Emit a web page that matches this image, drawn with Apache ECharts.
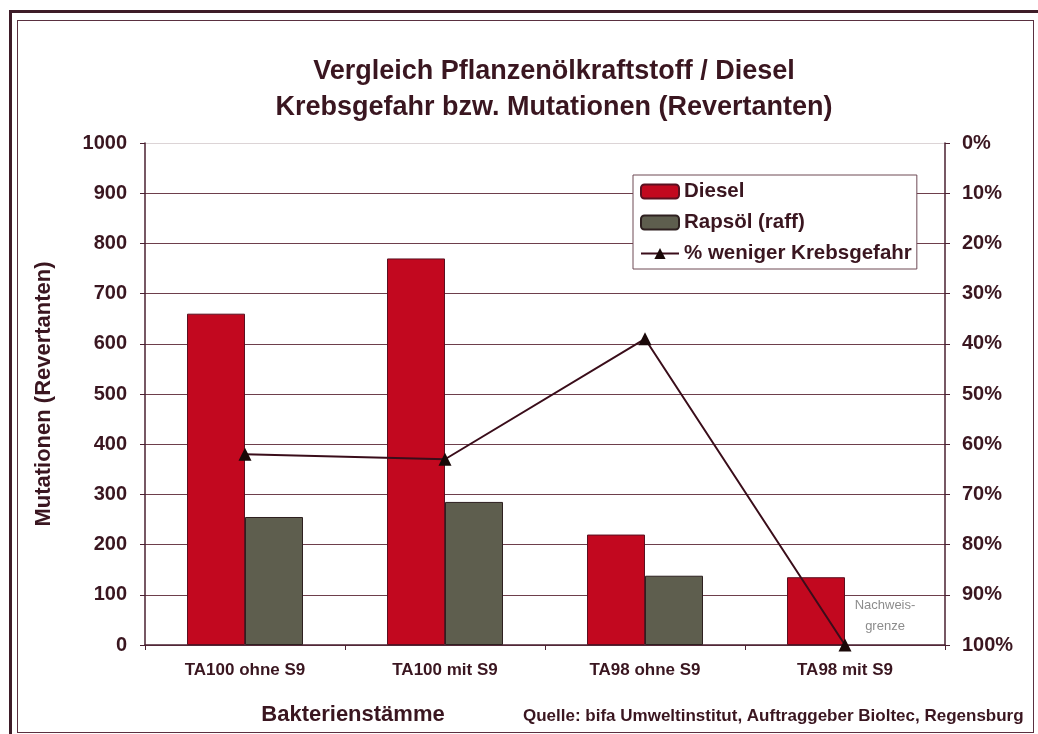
<!DOCTYPE html>
<html>
<head>
<meta charset="utf-8">
<script src="https://cdn.jsdelivr.net/npm/echarts@6/dist/echarts.min.js"></script>
<style>
  body { margin: 0; background: #fff; }
  #chart { position: absolute; left: 0; top: 0; width: 1038px; height: 734px; }
  .frameOuter { position: absolute; left: 9px; top: 10px; width: 1040px; height: 740px; border: 3px solid #3e1c28; pointer-events: none; }
  .frameInner { position: absolute; left: 17px; top: 20px; width: 1015px; height: 711px; border: 1px solid #5a3040; pointer-events: none; }
</style>
</head>
<body>
<div id="chart"></div>
<div class="frameOuter"></div>
<div class="frameInner"></div>
<script>
// Bakterienstämme
const categories = ['TA100 ohne S9', 'TA100 mit S9', 'TA98 ohne S9', 'TA98 mit S9'];
// Mutationen (Revertanten)
const diesel = [660, 770, 220, 135];
const rapsoel = [255, 285, 138, 0];
// % weniger Krebsgefahr
const wenigerKrebs = [62, 63, 39, 100];
const belowLimitText = 'Nachweis-\ngrenze';

const dark = '#3a1620';
const font = 'Liberation Sans';

let myChart = echarts.init(document.getElementById('chart'));

let option = {
    textStyle: { fontFamily: font },
    title: [
        {
            text: 'Vergleich Pflanzenölkraftstoff / Diesel\nKrebsgefahr bzw. Mutationen (Revertanten)',
            left: 549, top: 49, textAlign: 'center',
            textStyle: { fontFamily: font, fontSize: 27, fontWeight: 'bold', color: dark, lineHeight: 36 }
        },
        {
            text: 'Bakterienstämme',
            left: 348, top: 699, textAlign: 'center',
            textStyle: { fontFamily: font, fontSize: 22, fontWeight: 'bold', color: dark }
        },
        {
            text: 'Quelle: bifa Umweltinstitut, Auftraggeber Bioltec, Regensburg',
            left: 518, top: 703,
            textStyle: { fontFamily: font, fontSize: 17, fontWeight: 'bold', color: dark }
        }
    ],
    legend: {
        orient: 'vertical',
        left: 633, top: 175,
        padding: [6, 5, 5, 7],
        itemGap: 10,
        itemWidth: 38, itemHeight: 14,
        backgroundColor: '#fff',
        borderColor: '#6e4a55', borderWidth: 1,
        textStyle: { fontFamily: font, fontSize: 20.5, fontWeight: 'bold', color: dark },
        data: ['Diesel', 'Rapsöl (raff)', '% weniger Krebsgefahr']
    },
    grid: { left: 145, right: 93, top: 143, bottom: 89 },
    xAxis: {
        type: 'category',
        data: categories,
        axisLine: { lineStyle: { color: '#4a2030', width: 1.5 } },
        axisTick: { show: true, length: 5, lineStyle: { color: '#4a2030' } },
        axisLabel: { margin: 17, fontFamily: font, fontSize: 17, fontWeight: 'bold', color: dark }
    },
    yAxis: [
        {
            type: 'value',
            min: 0, max: 1000, interval: 100,
            name: 'Mutationen (Revertanten)',
            nameLocation: 'middle', nameGap: 90,
            nameTextStyle: { fontFamily: font, fontSize: 22, fontWeight: 'bold', color: dark },
            axisLine: { show: true, lineStyle: { color: '#4a2030', width: 1.5 } },
            axisTick: { show: true, length: 5, lineStyle: { color: '#4a2030' } },
            axisLabel: { margin: 18, formatter: (v) => String(v), fontFamily: font, fontSize: 20, fontWeight: 'bold', color: dark },
            splitLine: {
                lineStyle: {
                    color: ['#6e3f4c', '#6e3f4c', '#6e3f4c', '#6e3f4c', '#6e3f4c', '#6e3f4c',
                            '#6e3f4c', '#6e3f4c', '#6e3f4c', '#6e3f4c', '#dcd4d6'],
                    width: 1
                }
            }
        },
        {
            type: 'value',
            min: 0, max: 100, interval: 10,
            inverse: true,
            position: 'right',
            axisLine: { show: true, lineStyle: { color: '#4a2030', width: 1.5 } },
            axisTick: { show: true, length: 5, lineStyle: { color: '#4a2030' } },
            axisLabel: { margin: 17, formatter: '{value}%', fontFamily: font, fontSize: 20, fontWeight: 'bold', color: dark },
            splitLine: { show: false }
        }
    ],
    series: [
        {
            name: 'Diesel',
            type: 'bar',
            data: diesel,
            barGap: 0,
            barCategoryGap: '42%',
            itemStyle: { color: '#c2081f', borderColor: '#5a1020', borderWidth: 1 }
        },
        {
            name: 'Rapsöl (raff)',
            type: 'bar',
            data: rapsoel.map((v, i) => i === categories.length - 1 ? {
                value: v,
                itemStyle: { borderWidth: 0 },
                label: {
                    show: true, position: 'top', distance: 8, offset: [11, 0],
                    formatter: belowLimitText,
                    fontFamily: font, fontSize: 13, lineHeight: 21, color: '#8c8c8c'
                }
            } : v),
            itemStyle: { color: '#5e5e4e', borderColor: '#2e2020', borderWidth: 1 }
        },
        {
            name: '% weniger Krebsgefahr',
            type: 'line',
            yAxisIndex: 1,
            data: wenigerKrebs,
            symbol: 'triangle',
            symbolSize: 13,
            lineStyle: { color: '#3a0d1a', width: 2 },
            itemStyle: { color: '#1a0808' },
            z: 5
        }
    ]
};
myChart.setOption(option);
</script>
</body>
</html>
